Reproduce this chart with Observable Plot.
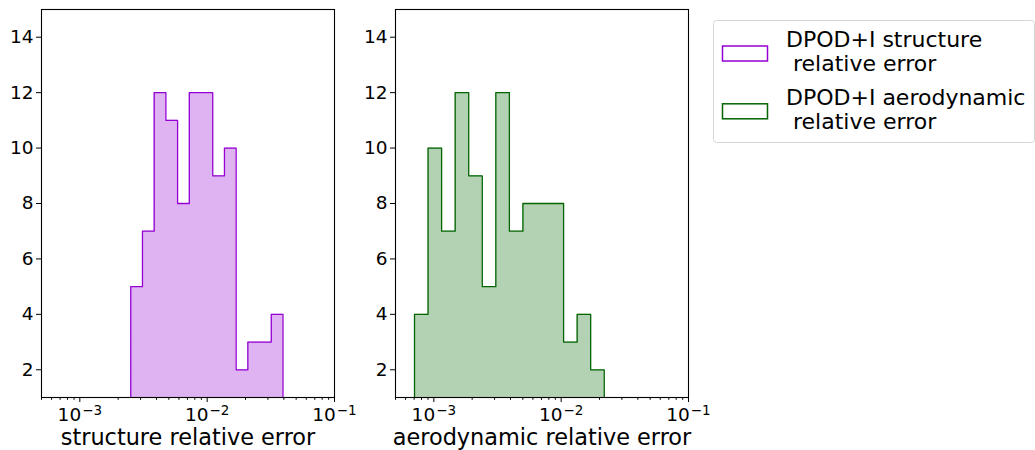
<!DOCTYPE html>
<html><head><meta charset="utf-8">
<script src="https://cdn.jsdelivr.net/npm/d3@7"></script>
<script src="https://cdn.jsdelivr.net/npm/@observablehq/plot@0.6"></script>
<style>
body{margin:0;background:#fff;font-family:"DejaVu Sans",sans-serif;}
#wrap{position:relative;width:1035px;height:450px;overflow:hidden;background:#fff;}
#wrap svg{position:absolute;top:0;overflow:visible;}
</style></head><body><div id="wrap"></div>
<script>
// Bin edges (log-spaced) and counts
const structEdges = [0.002512, 0.003104, 0.003836, 0.004741, 0.005859, 0.007241, 0.008948, 0.01106, 0.01367, 0.01689, 0.02087, 0.02579, 0.03188, 0.03939];
const structCounts = [5, 7, 12, 11, 8, 12, 12, 9, 10, 2, 3, 3, 4];
const aeroEdges = [0.000705, 0.000901, 0.001151, 0.001471, 0.001879, 0.002401, 0.003068, 0.003920, 0.005008, 0.006399, 0.008176, 0.01045, 0.01335, 0.01705, 0.02179];
const aeroCounts = [4, 10, 7, 12, 9, 5, 12, 7, 8, 8, 8, 3, 4, 2];
const xMajorTicks = [1e-3, 1e-2, 1e-1];
const xMajorLabels = ["−3", "−2", "−1"];
const xMinorTicks = [5e-4, 6e-4, 7e-4, 8e-4, 9e-4, 2e-3, 3e-3, 4e-3, 5e-3, 6e-3, 7e-3, 8e-3, 9e-3, 2e-2, 3e-2, 4e-2, 5e-2, 6e-2, 7e-2, 8e-2, 9e-2];
const yTicks = [2, 4, 6, 8, 10, 12, 14];
const xDomain = [5e-4, 0.1];
const yDomain = [1, 15];
const axisLabels = ["structure relative error", "aerodynamic relative error"];
const legendLabels = [["DPOD+I structure", " relative error"], ["DPOD+I aerodynamic", " relative error"]];

const strokeColors = ["#9400d3", "#006400"];
const fillColors = ["#dfb3f2", "#b3d1b3"];
const FONT = "DejaVu Sans";
const TICK_FS = 18.5;
const wrap = document.getElementById("wrap");

function panel(edges, counts, stroke, fill, label, left) {
  const n = edges.length;
  const step = [{x: edges[0], y: 0}]
    .concat(counts.map((c, i) => ({x: edges[i], y: c})))
    .concat([{x: edges[n - 1], y: counts[counts.length - 1]}, {x: edges[n - 1], y: 0}]);
  const svg = Plot.plot({
    width: 342, height: 450,
    marginLeft: 41, marginRight: 8, marginTop: 9, marginBottom: 53,
    style: {fontFamily: FONT, fontSize: TICK_FS + "px", color: "#000", background: "transparent", overflow: "visible"},
    x: {type: "log", domain: xDomain},
    y: {domain: yDomain},
    marks: [
      Plot.areaY(step, {x: "x", y: "y", curve: "step-after", fill, clip: true}),
      Plot.line(step, {x: "x", y: "y", curve: "step-after", stroke, strokeWidth: 1.3, clip: true}),
      Plot.frame({stroke: "#000", strokeWidth: 1.1}),
      Plot.axisY({ticks: yTicks, tickSize: 5, tickPadding: 3, label: null, fontSize: TICK_FS}),
      Plot.axisX({ticks: xMinorTicks, tickSize: 2.8, tickFormat: () => "", label: null}),
      Plot.axisX({ticks: xMajorTicks, tickSize: 5, tickPadding: 5, label: null, fontSize: TICK_FS,
        tickFormat: d => "10^" + xMajorLabels[xMajorTicks.indexOf(d)]}),
      Plot.text([label], {frameAnchor: "bottom", lineAnchor: "bottom", dy: 47, fontSize: 22.4, fill: "#000"})
    ]
  });
  const root = d3.select(svg);
  root.selectAll("text").each(function() {
    const t = this.textContent;
    if (t === "" || axisLabels.includes(t)) return;
    const sel = d3.select(this);
    sel.style("font-size", TICK_FS + "px");
    if (t.indexOf("10^") === 0) {
      // superscript formatting of log tick labels
      const exp = t.slice(3);
      sel.text(null);
      sel.append("tspan").text("10");
      sel.append("tspan").style("font-size", "13.5px").attr("dy", "-5.5px").attr("dx", "1px").text(exp);
    }
  });
  svg.style.left = left + "px";
  wrap.appendChild(svg);
}

panel(structEdges, structCounts, strokeColors[0], fillColors[0], axisLabels[0], 0);
panel(aeroEdges, aeroCounts, strokeColors[1], fillColors[1], axisLabels[1], 354);

// Legend
const lg = d3.select(wrap).append("svg").attr("width", 1035).attr("height", 450).style("left", "0px")
  .attr("font-family", FONT);
lg.append("rect").attr("x", 713.5).attr("y", 20.5).attr("width", 321).attr("height", 122)
  .attr("rx", 3).attr("fill", "#fff").attr("stroke", "#d6d6d6").attr("stroke-width", 1);
legendLabels.forEach((lines, i) => {
  const y0 = i * 57.8;
  lg.append("rect").attr("x", 722.5).attr("y", 46 + y0).attr("width", 45).attr("height", 15)
    .attr("fill", "#fff").attr("stroke", strokeColors[i]).attr("stroke-width", 1.5);
  const t = lg.append("text").attr("font-size", 22).attr("fill", "#000").style("white-space", "pre");
  lines.forEach((ln, j) => {
    t.append("tspan").attr("x", 786).attr("y", 46.7 + y0 + j * 24.4).text(ln);
  });
});
</script></body></html>
